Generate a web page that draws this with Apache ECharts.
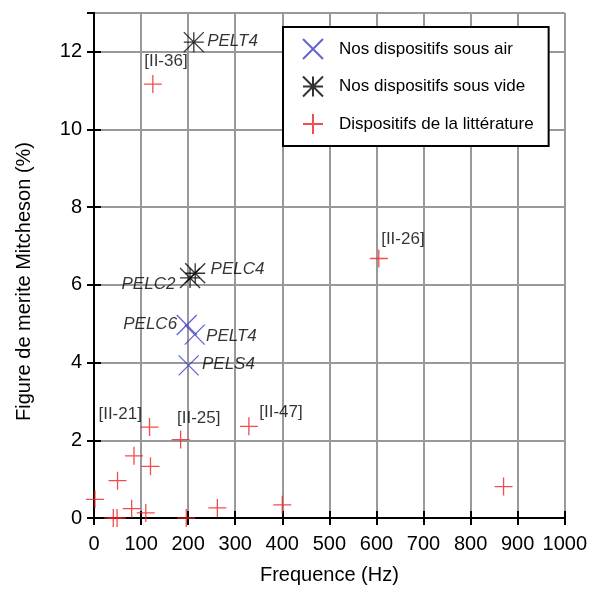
<!DOCTYPE html>
<html>
<head>
<meta charset="utf-8">
<script src="https://cdn.jsdelivr.net/npm/echarts@6/dist/echarts.min.js"></script>
<style>
  html, body { margin: 0; padding: 0; background: #fff; }
  #chart { width: 590px; height: 591px; }
</style>
</head>
<body>
<div id="chart"></div>
<script>
// --- data ---
var xTicks = [0, 100, 200, 300, 400, 500, 600, 700, 800, 900, 1000];
var yTicks = [0, 2, 4, 6, 8, 10, 12];

var airNames = ['PELC6', 'PELT4', 'PELS4'];
var airFreq  = [197, 214, 201];
var airMerit = [4.97, 4.72, 3.93];

var vacNames = ['PELT4', 'PELC2', 'PELC4'];
var vacFreq  = [212, 204, 215];
var vacMerit = [12.25, 6.18, 6.3];

var litNames = ['[II-36]', '[II-26]', '[II-21]', '[II-25]', '[II-47]', '', '', '', '', '', '', '', '', '', '', '', ''];
var litFreq  = [125, 605, 118, 184, 329, 85, 120, 50, 2, 80, 110, 41, 49, 196, 262, 400, 870];
var litMerit = [11.17, 6.68, 2.34, 2.02, 2.36, 1.6, 1.33, 0.96, 0.48, 0.24, 0.13, 0, 0, 0, 0.26, 0.34, 0.81];

// label placement (dx, dy from point centre, text align)
var airLabelAt = [[-9, 0, 'right'], [12, 2, 'left'], [14, 0, 'left']];
var vacLabelAt = [[14, 0, 'left'], [-14, 7, 'right'], [16, -3, 'left']];
var litLabelAt = [[-8, -22, 'left'], [3, -19, 'left'], [-7, -12, 'right'], [-3, -21, 'left'], [11, -13, 'left']];

var RED = '#ee2020', BLUE = '#3c3cc8';
var SYM_X = 'path://M0,0L10,10M10,0L0,10';
var SYM_STAR = 'path://M0,0L10,10M10,0L0,10M5,0L5,10M0,5L10,5';
var SYM_PLUS = 'path://M0,5L10,5M5,0L5,10';

function buildData(xs, ys, names, at, size, italic) {
  return xs.map(function (x, i) {
    var item = { value: [x, ys[i]] };
    var p = at[i];
    if (names[i] && p) {
      item.label = {
        show: true,
        formatter: names[i],
        position: [p[0] + size / 2, p[1] + size / 2],
        align: p[2],
        verticalAlign: 'middle',
        fontStyle: italic ? 'italic' : 'normal'
      };
    }
    return item;
  });
}

var myChart = echarts.init(document.getElementById('chart'));

var gridLine = { show: true, lineStyle: { color: '#999', width: 2 } };
var boxLine = { show: true, lineStyle: { color: '#000', width: 2 } };
var inTick = { show: true, inside: true, length: 7, lineStyle: { color: '#000', width: 2 } };
var labelFont = { fontFamily: 'Liberation Sans, Arial, sans-serif', fontSize: 20, color: '#000' };

var option = {
  animation: false,
  textStyle: { fontFamily: 'Liberation Sans, Arial, sans-serif' },
  grid: { left: 94, right: 24, top: 13, bottom: 73 },
  legend: {
    left: 283, top: 27,
    orient: 'vertical',
    itemWidth: 20, itemHeight: 20, itemGap: 15.5,
    padding: [11, 15, 11, 19],
    borderColor: '#000', borderWidth: 2,
    backgroundColor: '#fff',
    textStyle: { fontSize: 17, color: '#000', padding: [0, 0, 0, 11] },
    data: ['Nos dispositifs sous air', 'Nos dispositifs sous vide', 'Dispositifs de la littérature']
  },
  xAxis: [{
    type: 'value', min: 0, max: 1000, interval: 100,
    name: 'Frequence (Hz)', nameLocation: 'middle', nameGap: 47,
    nameTextStyle: labelFont,
    axisLine: boxLine, axisTick: inTick, splitLine: gridLine,
    axisLabel: Object.assign({ margin: 16, formatter: function (v) { return xTicks.indexOf(v) >= 0 ? String(v) : ''; } }, labelFont)
  }, {
    type: 'value', position: 'top', min: 0, max: 1000, interval: 100,
    axisLine: boxLine, axisTick: inTick, splitLine: { show: false }, axisLabel: { show: false }
  }],
  yAxis: [{
    type: 'value', min: 0, max: 13, interval: 2,
    name: 'Figure de merite Mitcheson (%)', nameLocation: 'middle', nameGap: 60,
    nameTextStyle: Object.assign({ padding: [0, 32, 0, 0] }, labelFont),
    axisLine: boxLine, axisTick: inTick, splitLine: gridLine,
    axisLabel: Object.assign({ margin: 12, showMaxLabel: false, formatter: function (v) { return yTicks.indexOf(v) >= 0 ? String(v) : ''; } }, labelFont)
  }, {
    type: 'value', position: 'right', min: 0, max: 13, interval: 2,
    axisLine: boxLine, axisTick: inTick, splitLine: { show: false }, axisLabel: { show: false }
  }],
  series: [{
    name: 'Nos dispositifs sous air',
    type: 'scatter', symbol: SYM_X, symbolSize: 20,
    itemStyle: { color: 'transparent', borderColor: BLUE, borderWidth: 1.3 },
    label: { fontSize: 17, color: '#000' },
    data: buildData(airFreq, airMerit, airNames, airLabelAt, 20, true)
  }, {
    name: 'Nos dispositifs sous vide',
    type: 'scatter', symbol: SYM_STAR, symbolSize: 20,
    itemStyle: { color: 'transparent', borderColor: '#000', borderWidth: 1.3 },
    label: { fontSize: 17, color: '#000' },
    data: buildData(vacFreq, vacMerit, vacNames, vacLabelAt, 20, true)
  }, {
    name: 'Dispositifs de la littérature',
    type: 'scatter', symbol: SYM_PLUS, symbolSize: 18,
    itemStyle: { color: 'transparent', borderColor: RED, borderWidth: 1.3 },
    label: { fontSize: 17, color: '#000' },
    data: buildData(litFreq, litMerit, litNames, litLabelAt, 18, false)
  }]
};
myChart.setOption(option);
window.addEventListener('resize', function () { myChart.resize(); });
</script>
</body>
</html>
